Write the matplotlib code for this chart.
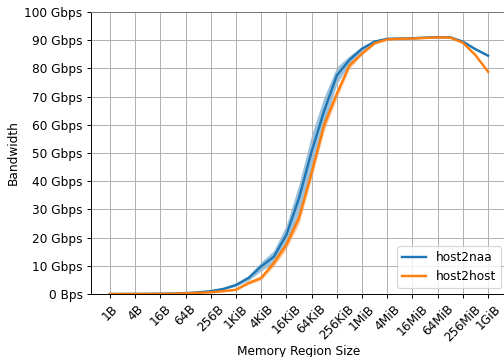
import matplotlib
matplotlib.use("Agg")
import matplotlib.pyplot as plt

# memory region sizes, 1B .. 1GiB, one point per power of two
sizes = [2 ** p for p in range(31)]
tick_sizes = [2 ** p for p in range(0, 31, 2)]
tick_labels = ["1B", "4B", "16B", "64B", "256B", "1KiB", "4KiB", "16KiB", "64KiB",
               "256KiB", "1MiB", "4MiB", "16MiB", "64MiB", "256MiB", "1GiB"]

# bandwidth in Gbps
host2naa = [0.0, 0.01, 0.02, 0.04, 0.08, 0.15, 0.3, 0.6, 1.0, 1.8, 3.2, 5.7, 9.8, 13.2,
            21.0, 34.0, 50.5, 65.0, 77.5, 83.0, 87.0, 89.5, 90.5, 90.6, 90.7, 90.9,
            91.1, 91.0, 89.5, 86.8, 84.5]
host2naa_lo = [0.0, 0.01, 0.02, 0.04, 0.08, 0.15, 0.3, 0.55, 0.9, 1.6, 2.7, 4.8, 8.2, 11.0,
               17.5, 29.0, 44.5, 60.0, 74.5, 81.5, 86.3, 89.2, 90.3, 90.4, 90.5, 90.7,
               90.9, 90.8, 89.2, 86.5, 84.2]
host2naa_hi = [0.0, 0.01, 0.02, 0.04, 0.08, 0.15, 0.3, 0.65, 1.1, 2.0, 3.7, 6.6, 11.4, 15.4,
               24.5, 39.0, 56.5, 70.0, 80.5, 84.5, 87.7, 89.8, 90.7, 90.8, 90.9, 91.1,
               91.3, 91.2, 89.8, 87.1, 84.8]
host2host = [0.0, 0.01, 0.02, 0.03, 0.06, 0.1, 0.2, 0.4, 0.6, 1.0, 1.5, 3.9, 5.7, 11.0,
             17.5, 27.0, 43.0, 60.0, 71.0, 81.0, 85.3, 88.9, 90.3, 90.5, 90.6, 90.8,
             91.0, 90.9, 89.1, 84.7, 78.8]
host2host_lo = [0.0, 0.01, 0.02, 0.03, 0.06, 0.1, 0.2, 0.35, 0.5, 0.9, 1.3, 3.4, 5.0, 9.8,
                16.0, 25.0, 41.0, 58.0, 69.5, 80.0, 84.8, 88.6, 90.1, 90.3, 90.4, 90.6,
                90.8, 90.7, 88.9, 84.4, 78.5]
host2host_hi = [0.0, 0.01, 0.02, 0.03, 0.06, 0.1, 0.2, 0.45, 0.7, 1.1, 1.7, 4.4, 6.4, 12.2,
                19.0, 29.0, 45.0, 62.0, 72.5, 82.0, 85.8, 89.2, 90.5, 90.7, 90.8, 91.0,
                91.2, 91.1, 89.3, 85.0, 79.1]

y_ticks = list(range(0, 101, 10))
y_labels = ["0 Bps"] + [f"{v} Gbps" for v in y_ticks[1:]]

dpi = 87
fig = plt.figure(figsize=(504 / dpi, 357 / dpi), dpi=dpi)
ax = fig.add_axes([91 / 504, 63 / 357, 416 / 504, 282 / 357])

ax.fill_between(sizes, host2naa_lo, host2naa_hi, color="C0", alpha=0.45, linewidth=0)
ax.fill_between(sizes, host2host_lo, host2host_hi, color="C1", alpha=0.45, linewidth=0)
ax.plot(sizes, host2naa, color="C0", linewidth=2, label="host2naa")
ax.plot(sizes, host2host, color="C1", linewidth=2, label="host2host")

ax.set_xscale("log", base=2)
ax.set_xlim(2 ** -1.5, 2 ** 31.5)
ax.set_xticks(tick_sizes)
ax.set_xticklabels(tick_labels, rotation=45)
ax.minorticks_off()
ax.set_ylim(0, 100)
ax.set_yticks(y_ticks)
ax.set_yticklabels(y_labels)
ax.grid(True)
ax.spines["top"].set_color("#777777")
ax.set_xlabel("Memory Region Size", labelpad=1)
ax.set_ylabel("Bandwidth")
ax.legend(loc="lower right")

fig.savefig("out.png", dpi=dpi)
